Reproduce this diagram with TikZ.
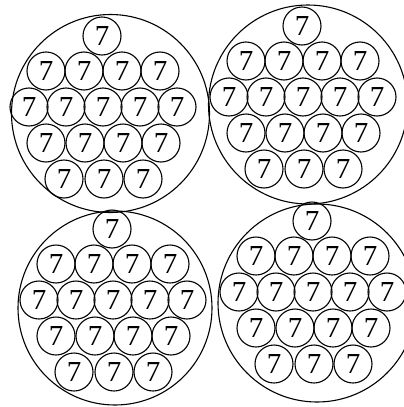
\documentclass[tikz,border=0pt]{standalone}
\usepackage{fontspec}
\setmainfont{Liberation Serif}
\newcommand\clusterdraw[3]{%
  \foreach \n/\dx/\dy in {t/-1/-71, ba/-57/-36, bb/-19/-36, bc/19/-36, bd/57/-36,
    ca/-74/0, cb/-37/0, cc/0/0, cd/37/0, ce/74/0,
    da/-57/36, db/-18/36, dc/20/36, dd/58/36,
    ea/-39/72, eb/1/72, ec/40/72}
    {\node[seven] (#1\n) at (#2+\dx,#3+\dy) {7};}%
}
\begin{document}
\begin{tikzpicture}[x=1pt,y=-1pt,
  bigc/.style={circle,draw,line width=1.1pt,inner sep=0pt},
  seven/.style={circle,draw,line width=1.1pt,inner sep=0pt,minimum size=38pt,
    font=\fontsize{29}{29}\selectfont}]
\useasboundingbox (0,0) rectangle (404,407);
\node[bigc,minimum size=198pt] (TL) at (110.5,113.5) {};
\node[bigc,minimum size=199pt] (TR) at (308,104.5) {};
\node[bigc,minimum size=194pt] (BL) at (115,308) {};
\node[bigc,minimum size=198pt] (BR) at (317,303) {};
\clusterdraw{tl}{103}{107}
\clusterdraw{tr}{303}{97}
\clusterdraw{bl}{113}{300}
\clusterdraw{br}{313}{292}
\end{tikzpicture}
\end{document}
